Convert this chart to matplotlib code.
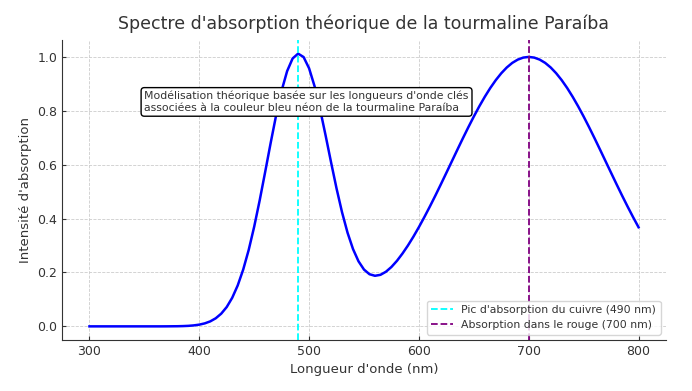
import matplotlib
matplotlib.use("Agg")
import matplotlib.pyplot as plt

wavelengths = list(range(300, 805, 5))
absorbance = [
    0.0, 0.0, 0.0, 0.0, 0.0, 0.0, 0.0, 0.0, 0.0, 0.0,            # 300-345
    0.0, 0.0, 0.0, 0.0, 0.0001, 0.0003, 0.0005, 0.0010, 0.0019, 0.0036,  # 350-395
    0.0064, 0.0111, 0.0185, 0.0300, 0.0472, 0.0718, 0.1061, 0.1519, 0.2108, 0.2836,  # 400-445
    0.3698, 0.4675, 0.5730, 0.6806, 0.7838, 0.8751, 0.9473, 0.9943, 1.0122, 0.9995,  # 450-495
    0.9577, 0.8911, 0.8059, 0.7092, 0.6090, 0.5118, 0.4235, 0.3478, 0.2869, 0.2415,  # 500-545
    0.2108, 0.1935, 0.1877, 0.1913, 0.2028, 0.2205, 0.2432, 0.2701, 0.3001, 0.3330,  # 550-595
    0.3684, 0.4059, 0.4450, 0.4855, 0.5273, 0.5698, 0.6126, 0.6554, 0.6977, 0.7390,  # 600-645
    0.7788, 0.8167, 0.8521, 0.8847, 0.9139, 0.9394, 0.9608, 0.9778, 0.9900, 0.9975,  # 650-695
    1.0, 0.9975, 0.9900, 0.9778, 0.9608, 0.9394, 0.9139, 0.8847, 0.8521, 0.8167,    # 700-745
    0.7788, 0.7390, 0.6977, 0.6554, 0.6126, 0.5698, 0.5273, 0.4855, 0.4449, 0.4056,  # 750-795
    0.3679,                                                       # 800
]
peak_copper = 490
peak_red = 700
label_copper = "Pic d'absorption du cuivre (490 nm)"
label_red = "Absorption dans le rouge (700 nm)"
title = "Spectre d'absorption théorique de la tourmaline Paraíba"
xlabel = "Longueur d'onde (nm)"
ylabel = "Intensité d'absorption"
note = ("Modélisation théorique basée sur les longueurs d'onde clés\n"
        "associées à la couleur bleu néon de la tourmaline Paraíba")

plt.rcParams["font.family"] = ["DejaVu Sans"]
text_color = "#333333"
plt.rcParams["text.color"] = text_color
plt.rcParams["axes.labelcolor"] = text_color
plt.rcParams["xtick.color"] = text_color
plt.rcParams["ytick.color"] = text_color

fig = plt.figure(figsize=(6.92, 3.91), dpi=100)
ax = fig.add_axes([62 / 692, 1 - 340 / 391, (666 - 62) / 692, (340 - 40) / 391])

ax.plot(wavelengths, absorbance, color="blue", linewidth=1.8)
ax.axvline(peak_copper, color="cyan", linestyle="--", linewidth=1.3, label=label_copper)
ax.axvline(peak_red, color="purple", linestyle="--", linewidth=1.3, label=label_red)

ax.set_title(title, fontsize=12.5, color=text_color, pad=8)
ax.set_xlabel(xlabel, fontsize=9.5, labelpad=4)
ax.set_ylabel(ylabel, fontsize=9.5, labelpad=4)
ax.tick_params(labelsize=9, length=3, direction="in", color=text_color)
ax.set_xticks([300, 400, 500, 600, 700, 800])
ax.set_yticks([0.0, 0.2, 0.4, 0.6, 0.8, 1.0])
ax.grid(True, linestyle="--", linewidth=0.6, color="#cccccc")
for s in ["top", "right"]:
    ax.spines[s].set_visible(False)
for s in ["left", "bottom"]:
    ax.spines[s].set_color(text_color)

ax.text(350, 0.833, note, fontsize=7.8, va="center", ha="left",
        bbox=dict(boxstyle="round,pad=0.3", facecolor="white", edgecolor="black"))

ax.legend(loc="lower right", fontsize=7.8, framealpha=0.8)

fig.savefig("out.png", dpi=100)
